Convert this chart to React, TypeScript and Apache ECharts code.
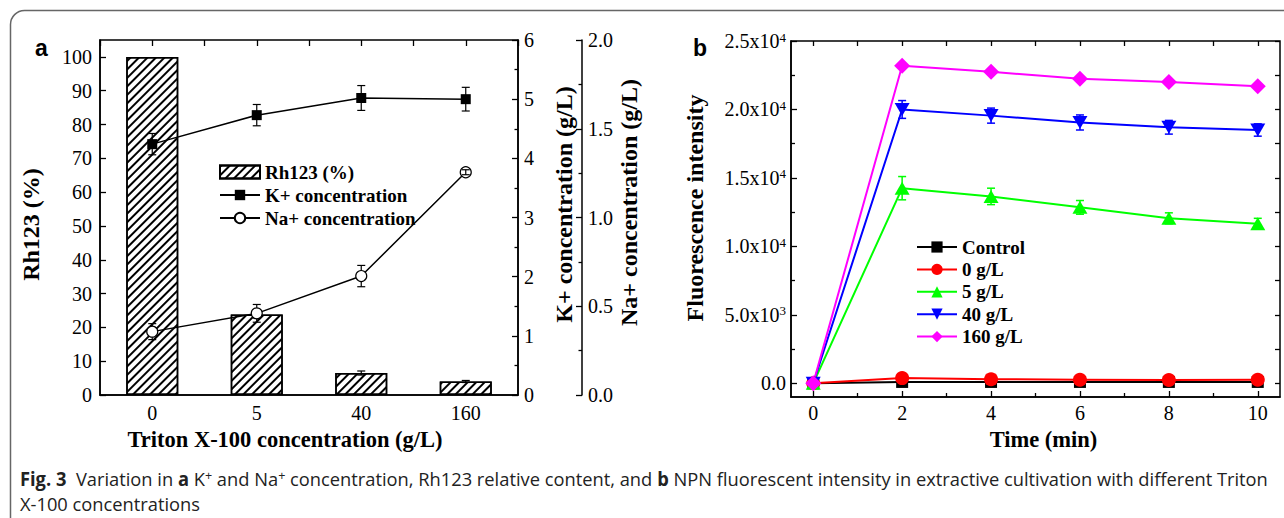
import React, { useEffect, useRef } from 'react';
import * as echarts from 'echarts';

// ---------- Panel a data ----------
const tritonCategories = ['0', '5', '40', '160'];
const rh123 = [100, 23.8, 6.5, 4.0];
const rh123Err = [0, 1.0, 0.6, 0.3];
const kConc = [4.24, 4.73, 5.02, 5.0];
const kErr = [0.18, 0.18, 0.21, 0.2];
const naConc = [0.357, 0.46, 0.67, 1.255];
const naErr = [0.045, 0.05, 0.06, 0.014];
const rhTicks = [0, 10, 20, 30, 40, 50, 60, 70, 80, 90, 100];

// ---------- Panel b data ----------
const timeMin = [0, 2, 4, 6, 8, 10];
const fControl = [0, 100, 100, 100, 100, 100];
const fZero = [0, 380, 300, 260, 240, 260];
const fFive = [0, 14250, 13650, 12850, 12050, 11650];
const fFiveErr = [0, 850, 600, 500, 400, 400];
const fForty = [0, 20000, 19550, 19050, 18700, 18500];
const fFortyErr = [0, 650, 550, 550, 500, 450];
const fOneSixty = [0, 23200, 22750, 22250, 22000, 21700];
const fluoTicks = [0, 5000, 10000, 15000, 20000, 25000];
const fluoMinorTicks = [2500, 7500, 12500, 17500, 22500];
const timeTicks = [0, 2, 4, 6, 8, 10];
const timeMinorTicks = [1, 3, 5, 7, 9];
const timeAllTicks = [0, 1, 2, 3, 4, 5, 6, 7, 8, 9, 10];

const SERIF = '"Liberation Serif", "Times New Roman", serif';
const SANS = '"Liberation Sans", Arial, sans-serif';
const CAP = '"Open Sans", sans-serif';

const fmtFluo = (v: number) => {
  if (v === 0) return '0.0';
  const e = Math.floor(Math.log10(v) + 1e-9);
  const m = v / Math.pow(10, e);
  return `${m.toFixed(1)}x10{sup|${e}}`;
};

// error bars; if markerR > 0 the part of the bar inside the (open) marker is left out
// unless the whole bar fits inside it
const errSeries = (
  name: string,
  xAxisIndex: number,
  yAxisIndex: number,
  data: number[][],
  color: string,
  cap: number,
  width: number,
  z: number,
  markerR = 0
) => ({
  type: 'custom',
  name,
  xAxisIndex,
  yAxisIndex,
  z,
  silent: true,
  data,
  encode: { x: 0, y: [1, 2, 3] },
  renderItem: (_params: any, api: any) => {
    const x = api.value(0);
    const pc = api.coord([x, api.value(1)]);
    const p1 = api.coord([x, api.value(2)]);
    const p2 = api.coord([x, api.value(3)]);
    const st = { stroke: color, lineWidth: width };
    const children: any[] = [
      { type: 'line', shape: { x1: p1[0] - cap, y1: p1[1], x2: p1[0] + cap, y2: p1[1] }, style: st },
      { type: 'line', shape: { x1: p2[0] - cap, y1: p2[1], x2: p2[0] + cap, y2: p2[1] }, style: st },
    ];
    if (markerR > 0 && Math.abs(p1[1] - pc[1]) > markerR) {
      children.push({ type: 'line', shape: { x1: p1[0], y1: p1[1], x2: p1[0], y2: pc[1] + markerR }, style: st });
      children.push({ type: 'line', shape: { x1: p2[0], y1: p2[1], x2: p2[0], y2: pc[1] - markerR }, style: st });
    } else {
      children.push({ type: 'line', shape: { x1: p1[0], y1: p1[1], x2: p2[0], y2: p2[1] }, style: st });
    }
    return { type: 'group', children };
  },
});

const errData = (xs: number[], vals: number[], errs: number[]) =>
  vals.map((v, i) => [xs[i], v, v - errs[i], v + errs[i]]).filter((_, i) => errs[i] > 0);

type Seg = { t: string; s: 'n' | 'b' | 'sup' };
const captionLine1: Seg[] = [
  { t: 'Fig. 3', s: 'b' },
  { t: '  Variation in ', s: 'n' },
  { t: 'a', s: 'b' },
  { t: ' K', s: 'n' },
  { t: '+', s: 'sup' },
  { t: ' and Na', s: 'n' },
  { t: '+', s: 'sup' },
  { t: ' concentration, Rh123 relative content, and ', s: 'n' },
  { t: 'b', s: 'b' },
  { t: ' NPN fluorescent intensity in extractive cultivation with different Triton', s: 'n' },
];
const captionLine2: Seg[] = [{ t: 'X-100 concentrations', s: 'n' }];

const CAP_SIZE = 19;
const SUP_SIZE = 13;

function buildRich(segs: Seg[]) {
  return segs.map((g) => (g.s === 'n' ? g.t : `{${g.s}|${g.t}}`)).join('');
}
function measureSegs(segs: Seg[]) {
  const ctx = document.createElement('canvas').getContext('2d');
  if (!ctx) return 1200;
  let w = 0;
  for (const g of segs) {
    if (g.s === 'b') ctx.font = `bold ${CAP_SIZE}px ${CAP}`;
    else if (g.s === 'sup') ctx.font = `normal ${SUP_SIZE}px ${CAP}`;
    else ctx.font = `normal ${CAP_SIZE}px ${CAP}`;
    w += ctx.measureText(g.t).width;
  }
  return w;
}

const axisLineStyle = { color: '#000', width: 1.5 };
const tickStyle = { color: '#000', width: 1.3 };
const tickLabel = { fontFamily: SERIF, fontSize: 20, color: '#000' };
const xTitleStyle = { fontFamily: SERIF, fontSize: 22.5, fontWeight: 'bold' as const, color: '#000' };
const yTitleStyle = { fontFamily: SERIF, fontSize: 24, fontWeight: 'bold' as const, color: '#000' };
const legendText = { fontFamily: SERIF, fontSize: 19, fontWeight: 'bold' as const, color: '#000', lineHeight: 20 };

const App = () => {
  const ref = useRef<HTMLDivElement>(null);

  useEffect(() => {
    if (!ref.current) return;
    const chart = echarts.init(ref.current, undefined, { renderer: 'svg', width: 1284, height: 518 });

    const capScale = 1248 / measureSegs(captionLine1);

    const hatch = {
      symbol: 'rect',
      symbolSize: 1,
      dashArrayX: [1, 0],
      dashArrayY: [1.1, 3.7],
      rotation: -Math.PI / 4,
      color: '#000',
      backgroundColor: '#fff',
    };

    const downTri = 'path://M0,0 L10,0 L5,8.66 Z';

    const lineB = (name: string, data: number[], color: string, symbol: string, size: any) => ({
      type: 'line',
      name,
      xAxisIndex: 2,
      yAxisIndex: 3,
      data: timeMin.map((t, i) => [t, data[i]]),
      symbol,
      symbolSize: size,
      showSymbol: true,
      itemStyle: { color },
      lineStyle: { color, width: 2 },
      z: 4,
    });

    const noLine = { show: false, onZero: false };
    const catIdx = tritonCategories.map((_, i) => i);

    const option: any = {
      animation: false,
      backgroundColor: '#fff',
      grid: [
        { left: 100, top: 40, width: 418, height: 355, show: true, borderColor: '#000', borderWidth: 1.5, backgroundColor: 'transparent' },
        { left: 791, top: 41, width: 489, height: 356, show: true, borderColor: '#000', borderWidth: 1.5, backgroundColor: 'transparent' },
      ],
      xAxis: [
        {
          type: 'category',
          gridIndex: 0,
          data: tritonCategories,
          position: 'bottom',
          axisLine: { onZero: false, lineStyle: axisLineStyle },
          axisTick: { show: false },
          axisLabel: { ...tickLabel, margin: 8 },
          name: 'Triton X-100 concentration (g/L)',
          nameLocation: 'middle',
          nameGap: 33,
          nameTextStyle: { ...xTitleStyle, padding: [0, 48, 0, 0] },
        },
        {
          type: 'value',
          gridIndex: 0,
          position: 'top',
          min: -0.5,
          max: 3.5,
          interval: 0.5,
          axisLine: noLine,
          axisTick: { show: true, inside: true, length: 6, lineStyle: tickStyle },
          axisLabel: { show: false },
          splitLine: { show: false },
        },
        {
          type: 'value',
          gridIndex: 1,
          position: 'bottom',
          min: -0.5,
          max: 10.5,
          axisLine: { onZero: false, lineStyle: axisLineStyle },
          axisTick: { show: true, inside: true, length: 6, lineStyle: tickStyle, customValues: timeTicks },
          axisLabel: { ...tickLabel, margin: 6, customValues: timeTicks },
          splitLine: { show: false },
          name: 'Time (min)',
          nameLocation: 'middle',
          nameGap: 31,
          nameTextStyle: { ...xTitleStyle, padding: [0, 0, 0, 16] },
        },
        {
          type: 'value',
          gridIndex: 1,
          position: 'bottom',
          min: -0.5,
          max: 10.5,
          axisLine: noLine,
          axisTick: { show: true, inside: true, length: 4, lineStyle: tickStyle, customValues: timeMinorTicks },
          axisLabel: { show: false },
          splitLine: { show: false },
        },
        {
          type: 'value',
          gridIndex: 1,
          position: 'top',
          min: -0.5,
          max: 10.5,
          axisLine: noLine,
          axisTick: { show: true, inside: true, length: 5, lineStyle: tickStyle, customValues: timeAllTicks },
          axisLabel: { show: false },
          splitLine: { show: false },
        },
      ],
      yAxis: [
        {
          type: 'value',
          gridIndex: 0,
          position: 'left',
          min: 0,
          max: 105,
          axisLine: { show: true, onZero: false, lineStyle: axisLineStyle },
          axisTick: { show: true, inside: true, length: 6, lineStyle: tickStyle, customValues: rhTicks },
          axisLabel: { ...tickLabel, margin: 8, customValues: rhTicks },
          splitLine: { show: false },
          name: 'Rh123 (%)',
          nameLocation: 'middle',
          nameGap: 57,
          nameTextStyle: { ...yTitleStyle, padding: [0, 14, 0, 0] },
        },
        {
          type: 'value',
          gridIndex: 0,
          position: 'right',
          min: 0,
          max: 6,
          interval: 1,
          axisLine: { show: true, onZero: false, lineStyle: axisLineStyle },
          axisTick: { show: true, inside: true, length: 6, lineStyle: tickStyle },
          minorTick: { show: true, splitNumber: 2, length: 3.5, lineStyle: tickStyle },
          axisLabel: { ...tickLabel, margin: 6 },
          splitLine: { show: false },
          minorSplitLine: { show: false },
          name: 'K+ concentration (g/L)',
          nameLocation: 'middle',
          nameGap: 34,
          nameTextStyle: { ...yTitleStyle, padding: [0, 0, 0, 26] },
        },
        {
          type: 'value',
          gridIndex: 0,
          position: 'right',
          offset: 64,
          min: 0,
          max: 2,
          interval: 0.5,
          axisLine: { show: true, onZero: false, lineStyle: axisLineStyle },
          axisTick: { show: true, inside: true, length: 6, lineStyle: tickStyle },
          minorTick: { show: true, splitNumber: 2, length: 3.5, lineStyle: tickStyle },
          axisLabel: { ...tickLabel, margin: 6, formatter: (v: number) => v.toFixed(1) },
          splitLine: { show: false },
          minorSplitLine: { show: false },
          name: 'Na+ concentration (g/L)',
          nameLocation: 'middle',
          nameGap: 34,
          nameTextStyle: { ...yTitleStyle, padding: [0, 0, 0, 30] },
        },
        {
          type: 'value',
          gridIndex: 1,
          position: 'left',
          min: -1000,
          max: 25000,
          axisLine: { show: true, onZero: false, lineStyle: axisLineStyle },
          axisTick: { show: true, inside: true, length: 6, lineStyle: tickStyle, customValues: fluoTicks },
          axisLabel: {
            ...tickLabel,
            margin: 5,
            customValues: fluoTicks,
            formatter: fmtFluo,
            rich: { sup: { fontFamily: SERIF, fontSize: 13, color: '#000', verticalAlign: 'top', padding: [0, 0, 8, 0] } },
          },
          splitLine: { show: false },
          name: 'Fluorescence intensity',
          nameLocation: 'middle',
          nameGap: 84,
          nameTextStyle: { ...yTitleStyle, padding: [0, 0, 0, 22] },
        },
        {
          type: 'value',
          gridIndex: 1,
          position: 'left',
          min: -1000,
          max: 25000,
          axisLine: noLine,
          axisTick: { show: true, inside: true, length: 4, lineStyle: tickStyle, customValues: fluoMinorTicks },
          axisLabel: { show: false },
          splitLine: { show: false },
        },
        {
          type: 'value',
          gridIndex: 1,
          position: 'right',
          min: -1000,
          max: 25000,
          axisLine: noLine,
          axisTick: { show: true, inside: true, length: 5, lineStyle: tickStyle, customValues: [...fluoTicks, ...fluoMinorTicks] },
          axisLabel: { show: false },
          splitLine: { show: false },
        },
      ],
      legend: [
        {
          left: 214,
          top: 157,
          orient: 'vertical',
          itemWidth: 40,
          itemHeight: 13,
          itemGap: 3,
          selectedMode: false,
          textStyle: legendText,
          data: [
            { name: 'Rh123 (%)', icon: 'rect', textStyle: legendText },
            { name: 'K+ concentration', textStyle: legendText },
            { name: 'Na+ concentration', textStyle: legendText },
          ],
        },
        {
          left: 911,
          top: 232,
          orient: 'vertical',
          itemWidth: 40,
          itemHeight: 14,
          itemGap: 2.4,
          selectedMode: false,
          textStyle: legendText,
          data: ['Control', '0 g/L', '5 g/L', '40 g/L', '160 g/L'],
        },
      ],
      series: [
        {
          type: 'bar',
          name: 'Rh123 (%)',
          xAxisIndex: 0,
          yAxisIndex: 0,
          data: rh123,
          barWidth: 52,
          itemStyle: { color: '#fff', borderColor: '#000', borderWidth: 1.5, decal: hatch },
          z: 2,
        },
        errSeries('rhErr', 0, 0, errData(catIdx, rh123, rh123Err), '#000', 4, 1.2, 3),
        errSeries('kErr', 0, 1, errData(catIdx, kConc, kErr), '#000', 4, 1.2, 3),
        {
          type: 'line',
          name: 'K+ concentration',
          xAxisIndex: 0,
          yAxisIndex: 1,
          data: kConc,
          symbol: 'rect',
          symbolSize: 10,
          itemStyle: { color: '#000' },
          lineStyle: { color: '#000', width: 1.5 },
          z: 4,
        },
        {
          type: 'line',
          name: 'Na+ concentration',
          xAxisIndex: 0,
          yAxisIndex: 2,
          data: naConc,
          symbol: 'circle',
          symbolSize: 11,
          itemStyle: { color: '#fff', borderColor: '#000', borderWidth: 1.2 },
          lineStyle: { color: '#000', width: 1.5 },
          z: 4,
        },
        errSeries('naErr', 0, 2, errData(catIdx, naConc, naErr), '#000', 4, 1.2, 5, 5.5),
        errSeries('b5Err', 2, 3, errData(timeMin, fFive, fFiveErr), '#00ff00', 4, 1.5, 3),
        errSeries('b40Err', 2, 3, errData(timeMin, fForty, fFortyErr), '#0000ff', 4, 1.5, 3),
        lineB('Control', fControl, '#000000', 'rect', 12),
        lineB('0 g/L', fZero, '#ff0000', 'circle', 14),
        lineB('5 g/L', fFive, '#00ff00', 'triangle', [15, 13]),
        lineB('40 g/L', fForty, '#0000ff', downTri, [15, 13]),
        lineB('160 g/L', fOneSixty, '#ff00ff', 'diamond', [16, 16]),
      ],
      graphic: [
        {
          type: 'rect',
          shape: { x: 10.5, y: 10.5, width: 1320, height: 560, r: 14 },
          style: { fill: 'none', stroke: '#666', lineWidth: 1.5 },
          silent: true,
        },
        {
          type: 'text',
          x: 35,
          y: 48,
          style: { text: 'a', fontFamily: SANS, fontWeight: 'bold', fontSize: 23, fill: '#000', verticalAlign: 'middle' },
        },
        {
          type: 'text',
          x: 693,
          y: 48,
          style: { text: 'b', fontFamily: SANS, fontWeight: 'bold', fontSize: 23, fill: '#000', verticalAlign: 'middle' },
        },
        {
          type: 'text',
          x: 20,
          y: 478,
          scaleX: capScale,
          style: {
            text: buildRich(captionLine1),
            fontFamily: CAP,
            fontSize: CAP_SIZE,
            fill: '#222',
            verticalAlign: 'middle',
            rich: {
              b: { fontFamily: CAP, fontSize: CAP_SIZE, fontWeight: 'bold', fill: '#222' },
              sup: { fontFamily: CAP, fontSize: SUP_SIZE, fill: '#222', verticalAlign: 'top', padding: [0, 0, 6, 0] },
            },
          },
        },
        {
          type: 'text',
          x: 20,
          y: 503,
          scaleX: capScale,
          style: {
            text: buildRich(captionLine2),
            fontFamily: CAP,
            fontSize: CAP_SIZE,
            fill: '#222',
            verticalAlign: 'middle',
          },
        },
      ],
    };

    chart.setOption(option);
    return () => chart.dispose();
  }, []);

  return (
    <div
      ref={ref}
      style={{ position: 'fixed', left: 0, top: 0, width: 1284, height: 518, background: '#fff' }}
    />
  );
};

export default App;
